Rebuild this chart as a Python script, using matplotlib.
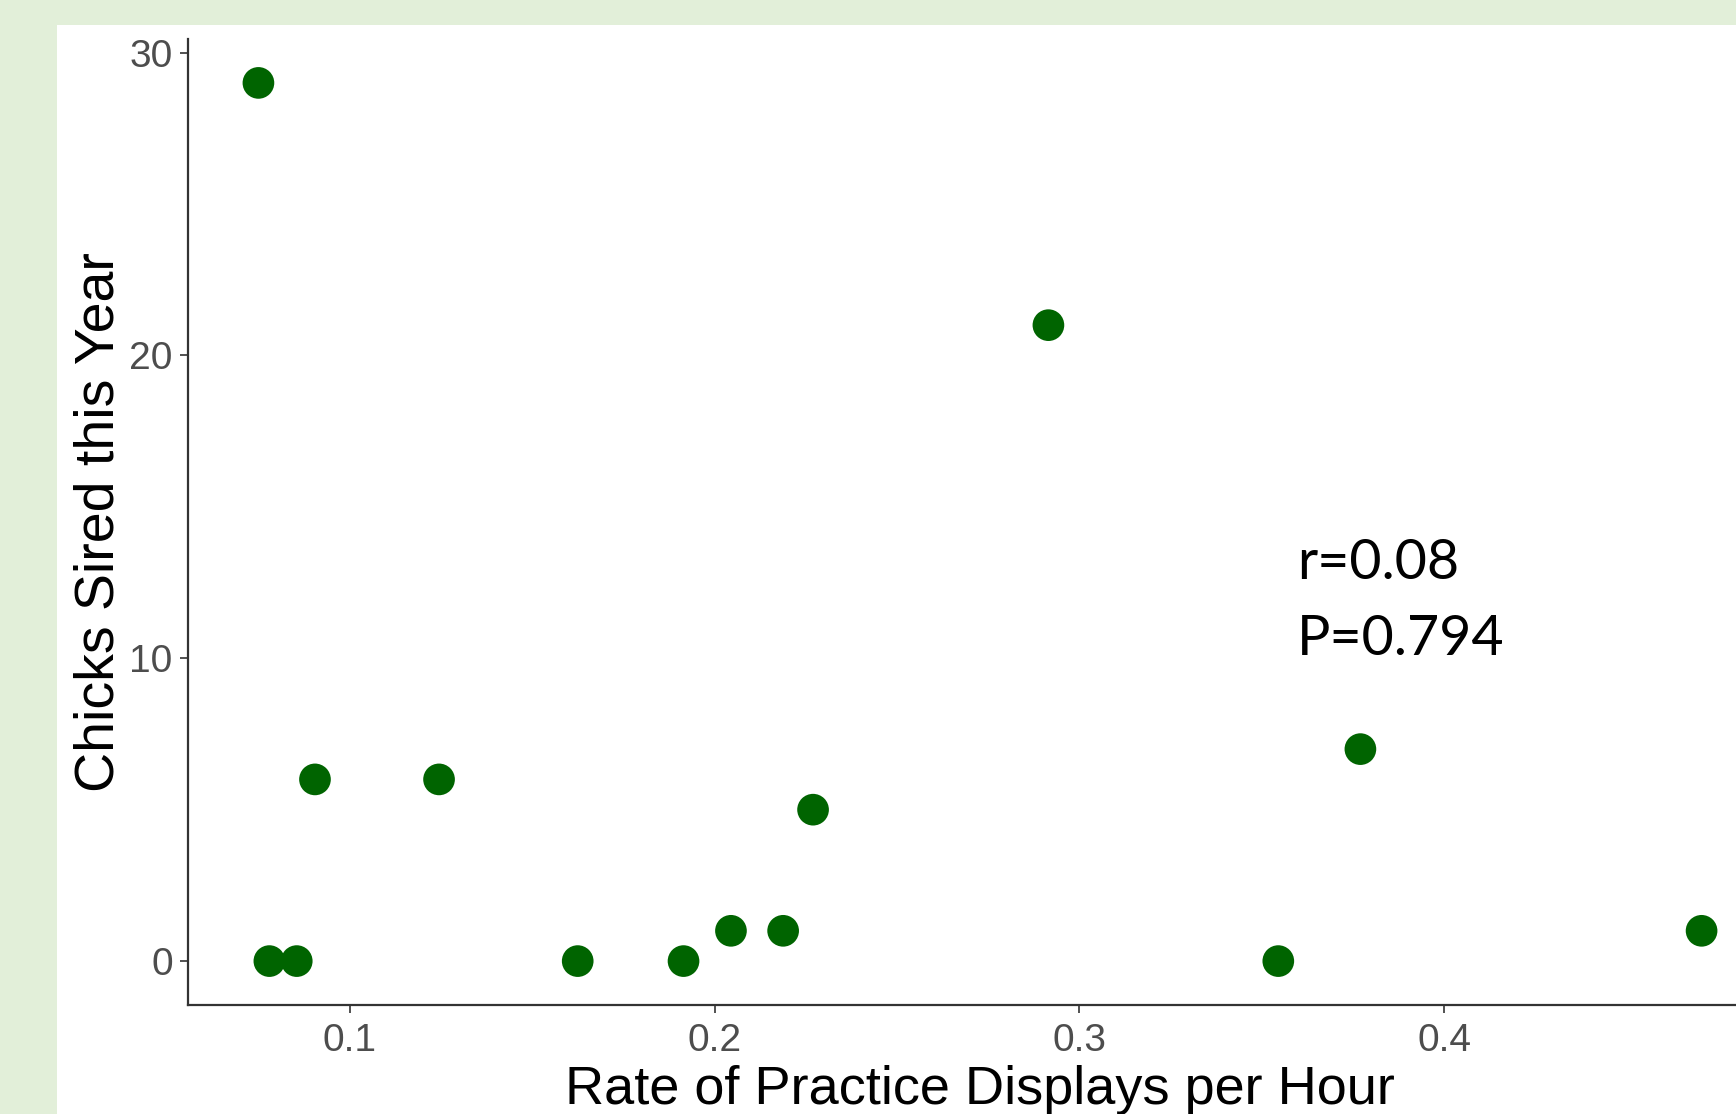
import matplotlib
matplotlib.use("Agg")
import matplotlib.pyplot as plt
from matplotlib.patches import Rectangle

# data
practice_rate = [0.075, 0.078, 0.0855, 0.0905, 0.1245, 0.1625, 0.1915,
                 0.2045, 0.2188, 0.227, 0.2915, 0.3545, 0.377, 0.4705]
chicks_sired = [29, 0, 0, 6, 6, 0, 0, 1, 1, 5, 21, 0, 7, 1]
y_ticks = [0, 10, 20, 30]
x_ticks = [0.1, 0.2, 0.3, 0.4]
stats_lines = ["r=0.08", "P=0.794"]

W, H = 1736, 1114
fig = plt.figure(figsize=(W / 100, H / 100), dpi=100)
fig.patch.set_facecolor("#e2efd9")
# white slide area
fig.patches.append(Rectangle((57 / W, 0), 1, 1 - 25 / H, transform=fig.transFigure,
                             facecolor="white", edgecolor="none", zorder=-5))

# axes run past the right edge of the picture (cropped like the original)
left, right, top, bottom = 188, 1772, 39, 1005
ax = fig.add_axes([left / W, 1 - bottom / H, (right - left) / W, (bottom - top) / H])
ax.set_facecolor("none")
ax.set_zorder(2)

ax.scatter(practice_rate, chicks_sired, s=520, color="#006400", edgecolors="none", zorder=3)

ax.set_xlim(0.0557, 0.4898)
ax.set_ylim(-1.45, 30.45)
ax.set_xticks(x_ticks)
ax.set_xticklabels([f"{v:.1f}" for v in x_ticks])
ax.set_yticks(y_ticks)

for s in ["top", "right"]:
    ax.spines[s].set_visible(False)
for s in ["left", "bottom"]:
    ax.spines[s].set_color("#333333")
    ax.spines[s].set_linewidth(1.6)

ax.tick_params(axis="both", colors="#333333", length=6, width=1.2, labelsize=28,
               labelcolor="#4d4d4d")
ax.tick_params(axis="x", pad=7)
ax.tick_params(axis="y", pad=5)
for lbl in ax.get_xticklabels() + ax.get_yticklabels():
    lbl.set_family("Liberation Sans")

ax.set_xlabel("Rate of Practice Displays per Hour", fontsize=39,
              family="Liberation Sans", labelpad=4)
ax.set_ylabel("Chicks Sired this Year", fontsize=40,
              family="Liberation Sans", labelpad=3)

# correlation note
fig.text(1297 / W, 1 - 579 / H, stats_lines[0], fontsize=40, family="Lato",
         va="baseline", ha="left", zorder=3)
fig.text(1297 / W, 1 - 655 / H, stats_lines[1], fontsize=40, family="Lato",
         va="baseline", ha="left", zorder=3)

fig.savefig("out.png", dpi=100, facecolor=fig.get_facecolor())
